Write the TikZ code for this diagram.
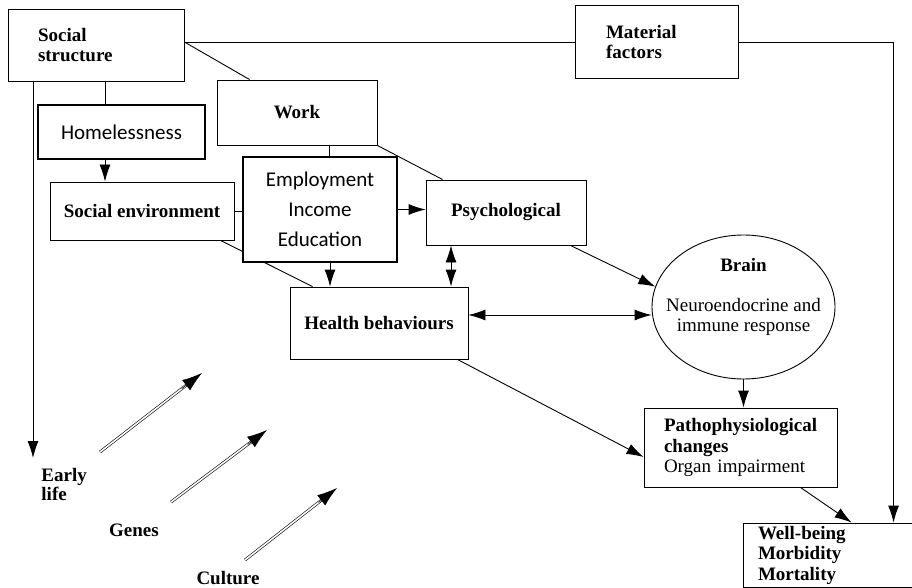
\documentclass[tikz,border=0pt]{standalone}
\usepackage{fontspec}
\setmainfont{Liberation Serif}
\newfontfamily\calibfont{Carlito}
\usetikzlibrary{shapes.geometric, calc, arrows.meta, backgrounds}

\begin{document}
\begin{tikzpicture}[x=1pt, y=-1pt, line width=0.9pt,
        blk/.style={draw, fill=white, line width=0.9pt, inner sep=0pt, font=\bfseries\fontsize{19}{20.5}\selectfont},
        newblk/.style={draw, fill=white, line width=1.8pt, inner sep=0pt, align=center, font=\calibfont\fontsize{21}{30}\selectfont},
        tag/.style={align=left, inner sep=0pt, font=\bfseries\fontsize{19}{19}\selectfont},
        arr/.style={-{Latex[length=17pt, width=11pt]}},
        biarr/.style={{Latex[length=17pt, width=11pt]}-{Latex[length=17pt, width=11pt]}},
        dblline/.style={double, double distance=1.6pt, line width=0.6pt, shorten >=14pt},
        dbltip/.style={line width=0.6pt, -{Latex[length=20pt, width=13pt]}}
    ]
        \useasboundingbox (0,0) rectangle (912,588);
        \clip (0,0) rectangle (912,588);

        \node[blk, text width=116pt, inner xsep=30pt, minimum height=72pt, align=left] (ss) at (96,45) {Social\\structure};
        \node[blk, text width=101pt, inner xsep=31pt, minimum height=73pt, align=left] (mf) at (656.5,42) {Material\\factors};
        \node[blk, minimum width=160pt, minimum height=65pt] (work) at (297,112.5) {Work};
        \node[newblk, minimum width=167pt, minimum height=54pt] (hl) at (121.5,132) {Homelessness};
        \node[blk, minimum width=184pt, minimum height=58pt] (se) at (142,211) {Social environment};
        \node[newblk, minimum width=154pt, minimum height=105pt] (emp) at (320,209.5) {Employment\\Income\\Education};
        \node[blk, minimum width=160pt, minimum height=65pt] (psy) at (506,212.5) {Psychological};
        \node[blk, minimum width=178pt, minimum height=72pt] (hb) at (379,323) {Health behaviours};
        \node[ellipse, draw, line width=0.9pt, minimum width=183pt, minimum height=144pt] (brain) at (743.5,307) {};
        \node[align=center, inner sep=0pt, font=\fontsize{19}{20}\selectfont] (brainlbl) at (743.5,297)
            {\textbf{Brain}\\[20pt]Neuroendocrine and\\immune response};
        \node[blk, text width=153pt, inner xsep=20pt, minimum height=79pt, align=left] (pp) at (740.5,447.5)
            {Pathophysiological\\changes\\\mdseries Organ impairment};
        \node[blk, text width=220pt, inner xsep=15pt, minimum height=64pt, align=left] (wb) at (868,555)
            {Well-being\\Morbidity\\Mortality};

        \node[tag, anchor=west] (elife) at (41,484) {Early\\life};
        \node[tag] (genes) at (134,530) {Genes};
        \node[tag] (cult) at (228,578) {Culture};

        \coordinate (hlin) at ($(hl.north)+(-16.5,0)$);
        \coordinate (hlout) at (hlin |- hl.south);
        \coordinate (wrk) at ($(emp.north)+(9,0)$);
        \coordinate (empout) at ($(emp.south)+(10,0)$);
        \coordinate (psyout) at ($(psy.south)+(-55,0)$);
        \coordinate (hbout) at ($(hb.east)+(0,-8)$);
        \coordinate (wbin) at ($(wb.north west)+(151,0)$);
        \coordinate (eltip) at (33,458);

        \draw (mf.west -| ss.east) -- (mf.west);
        \draw (mf.west -| ss.east) -- ($(work.north west)+(33,0)$);
        \draw[arr] (mf.east) -| (wbin);
        \draw[arr] (ss.south -| eltip) -- (eltip);
        \draw (hlin |- ss.south) -- (hlin);
        \draw[arr] (hlout) -- (hlout |- se.north);
        \draw (wrk |- work.south) -- (wrk);
        \draw (work.south east) -- ($(psy.north west)+(17,0)$);
        \draw (se.east) -- (se.east -| emp.west);
        \draw[arr] (emp.east) -- (emp.east -| psy.west);
        \draw[arr] (empout) -- (empout |- hb.north);
        \draw[biarr] (psyout) -- (psyout |- hb.north);
        \draw[arr] ($(psy.south east)+(-16,0)$) -- (brain.167);
        \draw[biarr] (hbout) -- (hbout -| brain.west);
        \draw[arr] (brain.south) -- (brain.south |- pp.north);
        \draw[arr] ($(hb.south east)+(-11,0)$) -- ($(pp.west)+(0,9.5)$);
        \draw[arr] ($(pp.south east)+(-37,0)$) -- ($(wb.north west)+(109,0)$);
        \begin{scope}[on background layer]
            \draw[line width=0.9pt] ($(se.south east)+(-14,0)$) -- ($(hb.north west)+(23,0)$);
        \end{scope}

        \coordinate (eltail) at (100,452);
        \coordinate (elhead) at (202,373);
        \coordinate (gntail) at (171,502);
        \coordinate (gnhead) at (267,430);
        \coordinate (cutail) at (245,560);
        \coordinate (cuhead) at (337,488);
        \draw[dblline] (eltail) -- (elhead);
        \draw[dblline] (gntail) -- (gnhead);
        \draw[dblline] (cutail) -- (cuhead);
        \draw[dbltip] ($(eltail)!0.8!(elhead)$) -- (elhead);
        \draw[dbltip] ($(gntail)!0.8!(gnhead)$) -- (gnhead);
        \draw[dbltip] ($(cutail)!0.8!(cuhead)$) -- (cuhead);

    \end{tikzpicture}
\end{document}
